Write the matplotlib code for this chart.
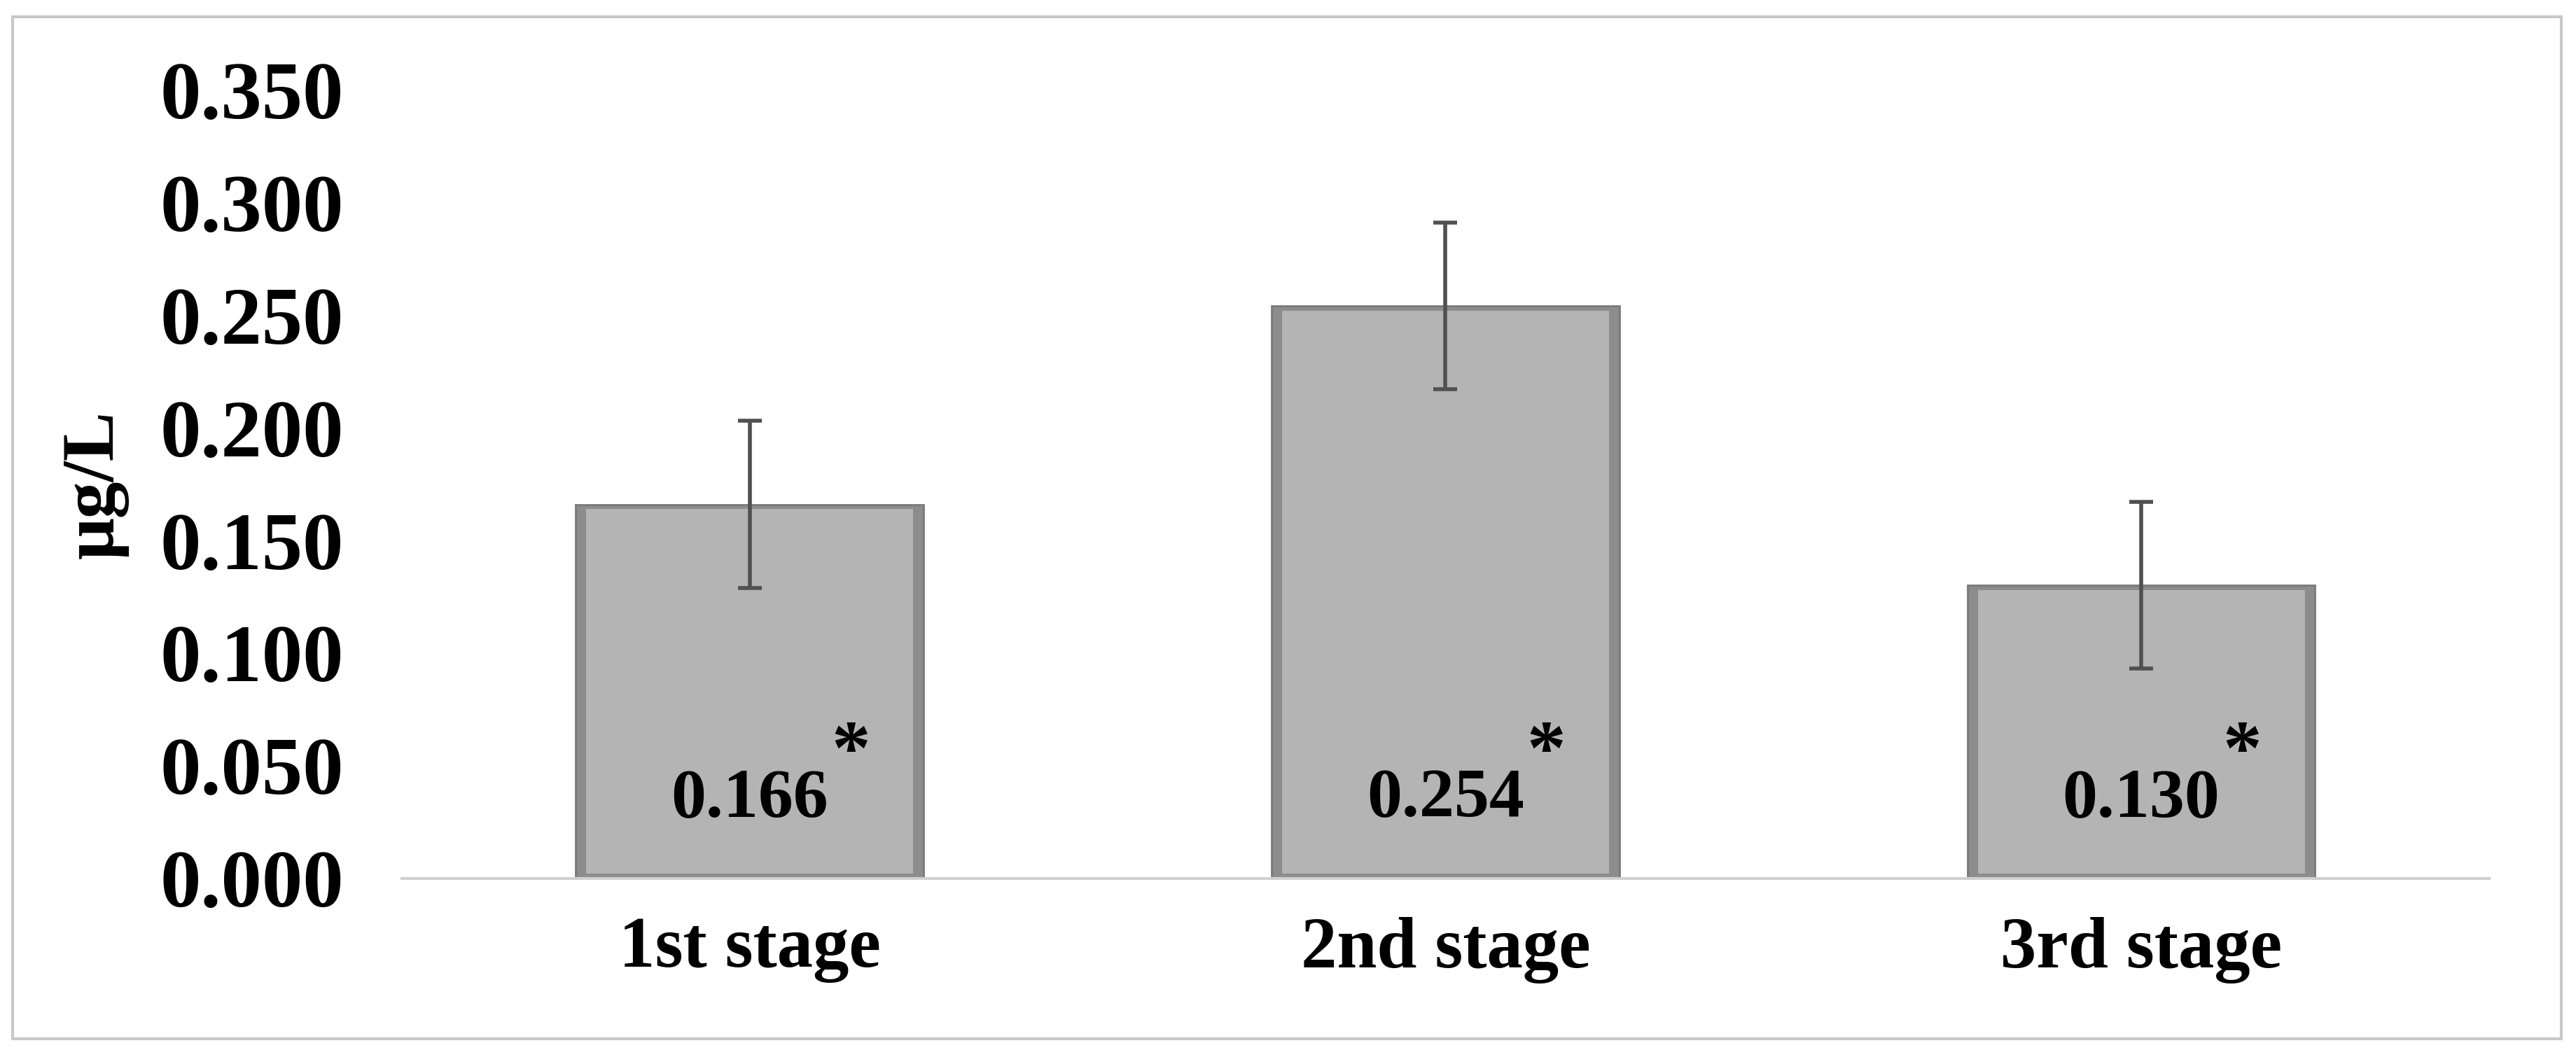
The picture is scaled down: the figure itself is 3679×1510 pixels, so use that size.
import matplotlib.pyplot as plt
from matplotlib.patches import Rectangle

stages = ["1st stage", "2nd stage", "3rd stage"]
means = [0.166, 0.254, 0.130]
errors = [0.037, 0.037, 0.037]
value_labels = ["0.166", "0.254", "0.130"]
yticks = [0.0, 0.05, 0.10, 0.15, 0.20, 0.25, 0.30, 0.35]

plt.rcParams['font.family'] = ['Liberation Serif', 'DejaVu Serif']
plt.rcParams['font.weight'] = 'bold'

fig = plt.figure(figsize=(18.4, 7.55), dpi=200)
fig.patches.append(Rectangle((0.005, 0.017), 0.989, 0.967, transform=fig.transFigure,
                             fill=False, edgecolor='#c8c8c8', linewidth=1.5))
ax = fig.add_axes([0.156, 0.169, 0.81, 0.746])

x = list(range(len(stages)))
# outer darker bevel, then lighter inner face
ax.bar(x, means, width=0.5, color='#8c8c8c', edgecolor='#7a7a7a', linewidth=1, zorder=2)
inset = [m - 0.004 for m in means]
ax.bar(x, inset, width=0.47, bottom=0.002, color='#b4b4b4', linewidth=0, zorder=3)
ax.errorbar(x, means, yerr=errors, fmt='none', ecolor='#505050', elinewidth=2,
            capsize=6, capthick=2, zorder=4)

for xi, lab in zip(x, value_labels):
    ax.text(xi, 0.035, lab, ha='center', va='center', fontsize=36, fontweight='bold', zorder=5)
    ax.text(xi + 0.145, 0.055, "*", ha='center', va='center', fontsize=40, fontweight='bold', zorder=5)

ax.set_xlim(-0.5, 2.5)
ax.set_ylim(0, 0.35)
ax.set_yticks(yticks)
ax.set_yticklabels([f"{v:.3f}" for v in yticks], fontsize=42, fontweight='bold')
ax.set_xticks(x)
ax.set_xticklabels(stages, fontsize=37, fontweight='bold')
ax.tick_params(length=0, pad=30)
ax.tick_params(axis='x', pad=20)
for s in ['top', 'right', 'left']:
    ax.spines[s].set_visible(False)
ax.spines['bottom'].set_color('#d0d0d0')
ax.spines['bottom'].set_linewidth(1.5)
ax.set_ylabel("μg/L", fontsize=38, fontweight='bold', labelpad=16)

fig.savefig("out.png", dpi=200)
